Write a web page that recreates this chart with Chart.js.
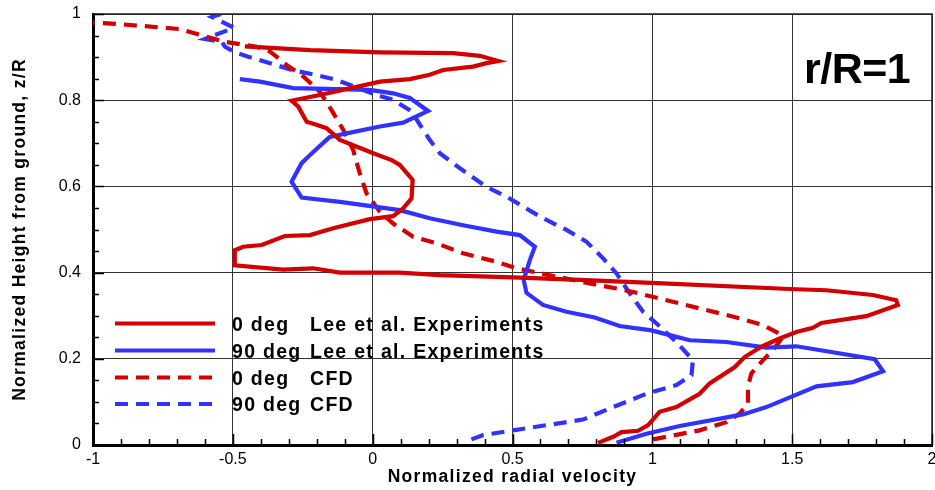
<!DOCTYPE html>
<html>
<head>
<meta charset="utf-8">
<script src="https://cdn.jsdelivr.net/npm/chart.js@4.4.1/dist/chart.umd.min.js"></script>
<style>
  html, body { margin: 0; padding: 0; background: #fff; }
  #wrap { width: 935px; height: 490px; }
</style>
</head>
<body>
<div id="wrap"><canvas id="c" width="935" height="490"></canvas></div>
<script>
// Radial velocity profiles at r/R = 1 (velocity vs. normalized height z/R)
const velExp0 = [0.806,0.860,0.890,0.949,0.985,1.026,1.086,1.169,1.205,1.295,1.330,1.390,1.455,1.515,1.574,1.604,1.765,1.878,1.872,1.789,1.622,1.491,0.997,0.741,0.501,0.240,0.097,-0.117,-0.213,-0.320,-0.493,-0.493,-0.463,-0.397,-0.314,-0.224,-0.141,-0.010,0.073,0.109,0.139,0.143,0.097,0.068,0.002,-0.117,-0.165,-0.201,-0.236,-0.266,-0.290,-0.189,0.026,0.133,0.204,0.252,0.359,0.407,0.449,0.383,0.288,0.026,-0.224,-0.457];
const zExp0   = [0.005,0.019,0.030,0.033,0.046,0.077,0.088,0.119,0.143,0.181,0.204,0.228,0.247,0.262,0.272,0.283,0.299,0.325,0.336,0.348,0.359,0.362,0.376,0.383,0.389,0.394,0.400,0.400,0.410,0.407,0.417,0.452,0.460,0.464,0.485,0.487,0.503,0.524,0.531,0.549,0.572,0.615,0.650,0.661,0.677,0.708,0.735,0.743,0.750,0.785,0.799,0.812,0.843,0.849,0.859,0.870,0.878,0.886,0.891,0.903,0.909,0.911,0.916,0.925];

const velExp90 = [0.872,0.979,1.098,1.324,1.408,1.587,1.717,1.825,1.795,1.515,1.408,1.265,1.134,1.062,0.997,0.883,0.794,0.693,0.609,0.550,0.540,0.562,0.580,0.526,0.443,0.323,0.204,0.097,-0.117,-0.254,-0.290,-0.254,-0.224,-0.165,-0.153,-0.093,0.026,0.109,0.198,0.133,0.073,-0.010,-0.284,-0.403,-0.475];
const zExp90   = [0.005,0.026,0.044,0.071,0.088,0.136,0.146,0.171,0.199,0.229,0.226,0.239,0.243,0.255,0.266,0.276,0.296,0.309,0.325,0.353,0.383,0.429,0.460,0.487,0.495,0.510,0.526,0.545,0.564,0.574,0.611,0.654,0.673,0.708,0.715,0.723,0.739,0.748,0.775,0.805,0.816,0.824,0.828,0.843,0.849];

const velCfd0 = [1.003,1.169,1.265,1.312,1.342,1.342,1.354,1.396,1.431,1.467,1.444,1.396,1.312,1.169,1.026,0.931,0.872,0.776,0.633,0.514,0.443,0.323,0.228,0.145,0.073,0.026,-0.022,-0.046,-0.070,-0.105,-0.147,-0.189,-0.248,-0.308,-0.367,-0.415,-0.534,-0.618,-0.689,-0.915,-1.0];
const zCfd0   = [0.013,0.034,0.053,0.073,0.096,0.135,0.166,0.197,0.220,0.251,0.262,0.278,0.294,0.317,0.340,0.355,0.363,0.375,0.394,0.410,0.425,0.445,0.468,0.483,0.514,0.541,0.584,0.630,0.685,0.731,0.777,0.820,0.855,0.882,0.913,0.924,0.936,0.952,0.965,0.977,0.980];

const velCfd90 = [0.353,0.395,0.502,0.752,0.860,0.979,1.086,1.140,1.145,1.086,1.015,0.967,0.919,0.872,0.824,0.764,0.693,0.598,0.479,0.407,0.312,0.240,0.204,0.169,0.139,0.073,0.014,-0.064,-0.129,-0.207,-0.289,-0.367,-0.445,-0.489,-0.528,-0.539,-0.600,-0.496,-0.575,-0.543];
const zCfd90   = [0.013,0.023,0.034,0.059,0.088,0.119,0.139,0.162,0.197,0.239,0.282,0.309,0.352,0.398,0.433,0.472,0.499,0.530,0.576,0.599,0.642,0.677,0.708,0.743,0.774,0.801,0.812,0.831,0.847,0.859,0.870,0.886,0.901,0.910,0.924,0.935,0.942,0.968,0.993,1.0];

const seriesAngle = ['0 deg', '90 deg', '0 deg', '90 deg'];
const seriesSource = ['Lee et al. Experiments', 'Lee et al. Experiments', 'CFD', 'CFD'];

const xTicks = [-1, -0.5, 0, 0.5, 1, 1.5, 2];
const yTicks = [0, 0.2, 0.4, 0.6, 0.8, 1];
const xTitle = 'Normalized radial velocity';
const yTitle = 'Normalized Height from ground, z/R';
const stationLabel = 'r/R=1';

const RED = 'rgb(210,0,0)';
const BLUE = 'rgb(50,50,255)';
const DASH = [13, 8];
const BOLD_SPACING = '1.3px';

function zip(xs, ys) { return xs.map((x, i) => ({ x: x, y: ys[i] })); }

function lineSet(label, xs, ys, color, dashed) {
  return {
    label: label,
    data: zip(xs, ys),
    showLine: true,
    borderColor: color,
    backgroundColor: color,
    borderWidth: 4.2,
    borderDash: dashed ? DASH : [],
    pointRadius: 0,
    pointHoverRadius: 0,
    tension: 0,
    fill: false
  };
}

// Inside tick marks (major + minor), frame, legend, axis titles and station label
const decorations = {
  id: 'decorations',
  afterDraw(chart) {
    const ctx = chart.ctx;
    const a = chart.chartArea;
    const xs = chart.scales.x, ys = chart.scales.y;
    ctx.save();

    // thin top/right frame
    ctx.strokeStyle = '#222';
    ctx.lineWidth = 1.5;
    ctx.beginPath();
    ctx.moveTo(a.left, a.top); ctx.lineTo(a.right, a.top); ctx.lineTo(a.right, a.bottom);
    ctx.stroke();

    // tick marks along bottom axis
    ctx.strokeStyle = '#000';
    ctx.lineWidth = 1.5;
    for (let i = 0; i <= 30; i++) {
      const v = -1 + i * 0.1;
      const px = Math.round(xs.getPixelForValue(v)) + 0.5;
      const len = (i % 5 === 0) ? 11 : 6;
      ctx.beginPath(); ctx.moveTo(px, a.bottom); ctx.lineTo(px, a.bottom - len); ctx.stroke();
    }
    // tick marks along left axis
    for (let i = 0; i <= 20; i++) {
      const v = i * 0.05;
      const py = Math.round(ys.getPixelForValue(v)) + 0.5;
      const len = (i % 4 === 0) ? 11 : 6;
      ctx.beginPath(); ctx.moveTo(a.left, py); ctx.lineTo(a.left + len, py); ctx.stroke();
    }

    // legend
    const rows = [323.5, 350.5, 377.5, 404];
    ctx.font = 'bold 19.5px "Liberation Sans", Arial, sans-serif';
    ctx.letterSpacing = BOLD_SPACING;
    ctx.textBaseline = 'alphabetic';
    ctx.textAlign = 'left';
    chart.data.datasets.forEach((ds, i) => {
      const y = rows[i];
      ctx.strokeStyle = ds.borderColor;
      ctx.lineWidth = ds.borderWidth;
      ctx.setLineDash(ds.borderDash);
      ctx.beginPath(); ctx.moveTo(115, y); ctx.lineTo(215, y); ctx.stroke();
      ctx.setLineDash([]);
      ctx.fillStyle = '#000';
      ctx.fillText(seriesAngle[i], 232, y + 7);
      ctx.fillText(seriesSource[i], 310, y + 7);
    });

    // axis titles
    ctx.font = 'bold 17.5px "Liberation Sans", Arial, sans-serif';
    const wx = ctx.measureText(xTitle).width;
    ctx.fillText(xTitle, (a.left + a.right) / 2 - wx / 2, 482);
    const wy = ctx.measureText(yTitle).width;
    ctx.save();
    ctx.translate(25, (a.top + a.bottom) / 2);
    ctx.rotate(-Math.PI / 2);
    ctx.fillText(yTitle, -wy / 2, 0);
    ctx.restore();

    // station label
    ctx.letterSpacing = '-0.5px';
    ctx.font = 'bold 43px "Liberation Sans", Arial, sans-serif';
    ctx.fillText(stationLabel, 804, 83);

    ctx.restore();
  }
};

new Chart(document.getElementById('c'), {
  type: 'scatter',
  data: {
    datasets: [
      lineSet(seriesAngle[0] + ' ' + seriesSource[0], velExp0, zExp0, RED, false),
      lineSet(seriesAngle[1] + ' ' + seriesSource[1], velExp90, zExp90, BLUE, false),
      lineSet(seriesAngle[2] + ' ' + seriesSource[2], velCfd0, zCfd0, RED, true),
      lineSet(seriesAngle[3] + ' ' + seriesSource[3], velCfd90, zCfd90, BLUE, true)
    ]
  },
  options: {
    responsive: false,
    animation: false,
    devicePixelRatio: 1,
    layout: { padding: { left: 0, right: 3, top: 14, bottom: 0 } },
    plugins: { legend: { display: false }, tooltip: { enabled: false } },
    scales: {
      x: {
        type: 'linear',
        min: -1, max: 2,
        afterBuildTicks(scale) { scale.ticks = xTicks.map(v => ({ value: v })); },
        afterFit(scale) { scale.height = 45; scale.paddingLeft = 0; scale.paddingRight = 0; },
        ticks: {
          padding: 5,
          color: '#000',
          font: { family: '"Liberation Sans", Arial, sans-serif', size: 16 },
          maxRotation: 0,
          autoSkip: false,
          callback: v => String(v)
        },
        grid: { color: '#333', lineWidth: 1, drawTicks: false },
        border: { display: true, color: '#000', width: 3 }
      },
      y: {
        type: 'linear',
        min: 0, max: 1,
        afterBuildTicks(scale) { scale.ticks = yTicks.map(v => ({ value: v })); },
        afterFit(scale) { scale.width = 93; scale.paddingTop = 0; scale.paddingBottom = 0; },
        ticks: {
          padding: 12,
          color: '#000',
          font: { family: '"Liberation Sans", Arial, sans-serif', size: 16 },
          autoSkip: false,
          callback: v => String(v)
        },
        grid: { color: '#333', lineWidth: 1, drawTicks: false },
        border: { display: true, color: '#000', width: 3 }
      }
    }
  },
  plugins: [decorations]
});
</script>
</body>
</html>
